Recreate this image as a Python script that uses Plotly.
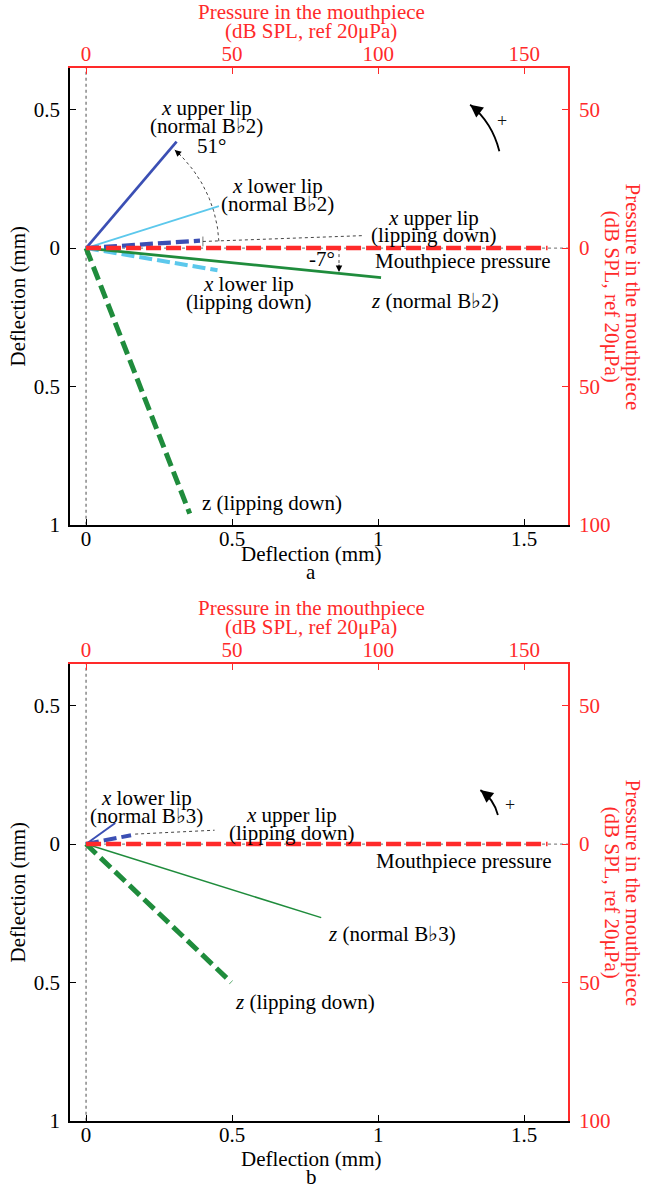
import math
import plotly.graph_objects as go

W, H = 645, 1196
FONT = "Liberation Serif"
RED = "#ff2a2a"
DBLUE = "#3b4fb4"
LBLUE = "#5cc8ec"
GREEN = "#1f8c3c"
GRAY = "#888888"

# ---------------- data (deflection in mm, pressure in dB) ----------------
# panel a : each lip trajectory drawn from origin to its end point
a_names = ["x upper lip (normal Bb2)", "x lower lip (normal Bb2)",
           "x upper lip (lipping down)", "x lower lip (lipping down)",
           "z (normal Bb2)", "z (lipping down)"]
a_end_x = [0.31, 0.455, 0.39, 0.45, 1.01, 0.355]
a_end_y = [0.385, 0.152, 0.027, -0.08, -0.107, -0.96]

# panel b
b_names = ["x lower lip (normal Bb3)", "x upper lip (lipping down)",
           "z (normal Bb3)", "z (lipping down)"]
b_end_x = [0.10, 0.154, 0.805, 0.497]
b_end_y = [0.076, 0.032, -0.266, -0.50]

# mouthpiece pressure (dB SPL) plotted on the red axes
pressure_x_db = [0, 158]
pressure_y_db = [0, 0]

x_ticks = [0, 0.5, 1, 1.5]
x_ticktext = ["0", "0.5", "1", "1.5"]
y_ticks = [-1, -0.5, 0, 0.5]
y_ticktext = ["1", "0.5", "0", "0.5"]
p_ticks = [0, 50, 100, 150]
p_ticktext = ["0", "50", "100", "150"]
pr_ticks = [-100, -50, 0, 50]
pr_ticktext = ["100", "50", "0", "50"]

angle_a_upper = "51°"
angle_a_z = "-7°"

# ---------------- styles ----------------
a_styles = [
    dict(color=DBLUE, width=2.7, dash="solid"),
    dict(color=LBLUE, width=1.8, dash="solid"),
    dict(color=DBLUE, width=4.2, dash="13px,5px"),
    dict(color=LBLUE, width=4, dash="13px,5px"),
    dict(color=GREEN, width=2.8, dash="solid"),
    dict(color=GREEN, width=5, dash="14px,6px"),
]
b_styles = [
    dict(color=DBLUE, width=2, dash="solid"),
    dict(color=DBLUE, width=4, dash="13px,5px"),
    dict(color=GREEN, width=1.5, dash="solid"),
    dict(color=GREEN, width=5, dash="14px,6px"),
]

XR = [-0.055, 1.65]
YR = [-1.0, 0.65]
# panel boxes in pixels (left, right, top, bottom)
BOX_L, BOX_R = 70, 568
A_TOP, A_BOT = 69, 530
B_TOP, B_BOT = 671, 1132
FS = 21


def py(p):
    return 1 - p / H


def px(p):
    return p / W


fig = go.Figure()


def panel(sfx_main, sfx_press, ends_x, ends_y, styles):
    xa = "x" + sfx_main
    ya = "y" + sfx_main
    # dotted zero guides
    fig.add_trace(go.Scatter(x=[0, 0], y=YR, mode="lines", xaxis=xa, yaxis=ya,
                             line=dict(color=GRAY, width=1.5, dash="dot"),
                             showlegend=False, hoverinfo="skip"))
    fig.add_trace(go.Scatter(x=[0, XR[1]], y=[0, 0], mode="lines", xaxis=xa, yaxis=ya,
                             line=dict(color=GRAY, width=1.2, dash="dot"),
                             showlegend=False, hoverinfo="skip"))
    fig.add_trace(go.Scatter(x=pressure_x_db, y=pressure_y_db, mode="lines",
                             xaxis="x" + sfx_press, yaxis="y" + sfx_press,
                             line=dict(color=RED, width=4.5, dash="15px,5px"),
                             showlegend=False, hoverinfo="skip"))
    for ex, ey, st in zip(ends_x, ends_y, styles):
        fig.add_trace(go.Scatter(x=[0, ex], y=[0, ey], mode="lines", xaxis=xa, yaxis=ya,
                                 line=st, showlegend=False, hoverinfo="skip"))


panel("", "2", a_end_x, a_end_y, a_styles)
panel("3", "4", b_end_x, b_end_y, b_styles)

tickfont = dict(family=FONT, size=FS, color="black")
rtickfont = dict(family=FONT, size=FS, color=RED)


def axes(n_main, n_press, top, bot):
    dom_y = [py(bot), py(top)]
    dom_x = [px(BOX_L), px(BOX_R)]
    sm = "" if n_main == 1 else str(n_main)
    sp = str(n_press)
    common = dict(showgrid=False, zeroline=False, ticks="inside", ticklen=6,
                  showline=True, linewidth=1.6, mirror=False)
    fig.update_layout(**{
        "xaxis" + sm: dict(domain=dom_x, range=XR, anchor="y" + sm, tickvals=x_ticks,
                           ticktext=x_ticktext, tickfont=tickfont, linecolor="black",
                           tickcolor="black", ticklabelstandoff=-6, **common),
        "yaxis" + sm: dict(domain=dom_y, range=YR, anchor="x" + sm, tickvals=y_ticks,
                           ticktext=y_ticktext, tickfont=tickfont, linecolor="black",
                           tickcolor="black", ticklabelstandoff=4, **common),
        "xaxis" + sp: dict(overlaying="x" + sm, side="top", anchor="y" + sm,
                           range=[XR[0] * 100, XR[1] * 100], tickvals=p_ticks,
                           ticktext=p_ticktext, tickfont=rtickfont, linecolor=RED,
                           tickcolor=RED, ticklabelstandoff=-3, **common),
        "yaxis" + sp: dict(overlaying="y" + sm, side="right", anchor="x" + sm,
                           range=[YR[0] * 100, YR[1] * 100], tickvals=pr_ticks,
                           ticktext=pr_ticktext, tickfont=rtickfont, linecolor=RED,
                           tickcolor=RED, ticklabelstandoff=5, **common),
    })


axes(1, 2, A_TOP, A_BOT)
axes(3, 4, B_TOP, B_BOT)

ann = []
tfont = dict(family=FONT, size=FS, color="black")
rfont = dict(family=FONT, size=FS, color=RED)


def txt(x, y, text, xref, yref, **kw):
    d = dict(x=x, y=y, text=text, xref=xref, yref=yref, showarrow=False,
             font=kw.pop("font", tfont), xanchor="center", yanchor="middle")
    d.update(kw)
    ann.append(d)


# axis titles for each panel
for top, bot, letter, t1, t2 in [(A_TOP, A_BOT, "a", 30, 48), (B_TOP, B_BOT, "b", 39, 57)]:
    cy = py((top + bot) / 2)
    txt(px(311), py(top - 57), "Pressure in the mouthpiece", "paper", "paper", font=rfont)
    txt(px(311), py(top - 38), "(dB SPL, ref 20μPa)", "paper", "paper", font=rfont)
    txt(px(18), cy, "Deflection (mm)", "paper", "paper", textangle=-90)
    txt(px(633), cy, "Pressure in the mouthpiece", "paper", "paper", textangle=90, font=rfont)
    txt(px(612), cy, "(dB SPL, ref 20μPa)", "paper", "paper", textangle=90, font=rfont)
    txt(px(311), py(bot + t1), "Deflection (mm)", "paper", "paper")
    txt(px(311), py(bot + t2), letter, "paper", "paper")

# panel a labels
txt(0.414, 0.505, "<i>x</i> upper lip", "x", "y")
txt(0.414, 0.44, "(normal B♭2)", "x", "y")
txt(0.43, 0.368, angle_a_upper, "x", "y")
txt(0.655, 0.225, "<i>x</i> lower lip", "x", "y")
txt(0.655, 0.16, "(normal B♭2)", "x", "y")
txt(1.188, 0.11, "<i>x</i> upper lip", "x", "y")
txt(1.188, 0.046, "(lipping down)", "x", "y")
txt(0.86, -0.04, angle_a_z, "x", "y", xanchor="right")
txt(1.291, -0.046, "Mouthpiece pressure", "x", "y")
txt(0.555, -0.13, "<i>x</i> lower lip", "x", "y")
txt(0.555, -0.195, "(lipping down)", "x", "y")
txt(1.195, -0.19, "<i>z</i> (normal B♭2)", "x", "y")
txt(0.39, -0.923, "z (lipping down)", "x", "y", xanchor="left")

# panel b labels
txt(0.206, 0.168, "<i>x</i> lower lip", "x3", "y3")
txt(0.206, 0.103, "(normal B♭3)", "x3", "y3")
txt(0.705, 0.106, "<i>x</i> upper lip", "x3", "y3")
txt(0.705, 0.041, "(lipping down)", "x3", "y3")
txt(1.295, -0.061, "Mouthpiece pressure", "x3", "y3")
txt(0.82, -0.324, "<i>z</i> (normal B♭3)", "x3", "y3", xanchor="left")
txt(0.503, -0.572, "<i>z</i> (lipping down)", "x3", "y3", xanchor="left")

# --- decorations: angle arc, leader lines, rotation arrows ---
pxu_x = (BOX_R - BOX_L) / (XR[1] - XR[0])
pxu_ya = (A_BOT - A_TOP) / (YR[1] - YR[0])

# 51° arc from baseline to the upper-lip line
theta = math.atan2(a_end_y[0] * pxu_ya, a_end_x[0] * pxu_x)
R = 133
n = 40
t0 = math.radians(3)
t1 = theta - 0.03
arc_x, arc_y = [], []
for i in range(n + 1):
    t = t0 + (t1 - t0) * i / n
    arc_x.append(R * math.cos(t) / pxu_x)
    arc_y.append(R * math.sin(t) / pxu_ya)
fig.add_trace(go.Scatter(x=arc_x, y=arc_y, mode="lines", xaxis="x", yaxis="y",
                         line=dict(color="#444", width=1, dash="dot"),
                         showlegend=False, hoverinfo="skip"))
ann.append(dict(x=arc_x[-1], y=arc_y[-1], xref="x", yref="y", text="", showarrow=True,
                ax=10 * math.sin(t1), ay=10 * math.cos(t1), arrowhead=2, arrowsize=1.3,
                arrowwidth=1, arrowcolor="black"))

# leader line to x upper lip (lipping down), panel a
fig.add_trace(go.Scatter(x=[0.40, 0.945], y=[0.024, 0.045], mode="lines+markers",
                         xaxis="x", yaxis="y", line=dict(color="#444", width=1, dash="dot"),
                         marker=dict(symbol=["line-ns", "circle"], size=[7, 0],
                                     line=dict(color="#444", width=1)),
                         showlegend=False, hoverinfo="skip"))
# -7° arrow
zx = 0.866
zy = a_end_y[4] * zx / a_end_x[4]
fig.add_trace(go.Scatter(x=[zx, zx], y=[0, zy + 0.03], mode="lines", xaxis="x", yaxis="y",
                         line=dict(color="#444", width=1, dash="dot"),
                         showlegend=False, hoverinfo="skip"))
ann.append(dict(x=zx, y=zy + 0.005, xref="x", yref="y", text="", showarrow=True, ax=0, ay=-9,
                arrowhead=2, arrowsize=1.3, arrowwidth=1, arrowcolor="black"))

# leader line panel b
fig.add_trace(go.Scatter(x=[0.168, 0.44], y=[0.036, 0.05], mode="lines", xaxis="x3", yaxis="y3",
                         line=dict(color="#444", width=1, dash="dot"),
                         showlegend=False, hoverinfo="skip"))

# rotation arrows with "+"
shapes = []
for xr, yr, tail, ctrl, tip, plus in [
    ("x", "y", (1.415, 0.35), (1.39, 0.455), (1.315, 0.518), (1.425, 0.46)),
    ("x3", "y3", (1.41, 0.105), (1.395, 0.165), (1.35, 0.195), (1.45, 0.14)),
]:
    shapes.append(dict(type="path", xref=xr, yref=yr,
                       path=f"M {tail[0]},{tail[1]} Q {ctrl[0]},{ctrl[1]} {tip[0]},{tip[1]}",
                       line=dict(color="black", width=1.8)))
    ann.append(dict(x=tip[0], y=tip[1], xref=xr, yref=yr, text="", showarrow=True,
                    ax=9, ay=7, arrowhead=2, arrowsize=1.4, arrowwidth=1.8,
                    arrowcolor="black"))
    txt(plus[0], plus[1], "+", xr, yr, font=dict(family=FONT, size=18, color="#111111"))

fig.update_layout(width=W, height=H, autosize=False, margin=dict(l=0, r=0, t=0, b=0),
                  paper_bgcolor="white", plot_bgcolor="white", annotations=ann,
                  shapes=shapes, showlegend=False)

fig.write_html("out.html")
